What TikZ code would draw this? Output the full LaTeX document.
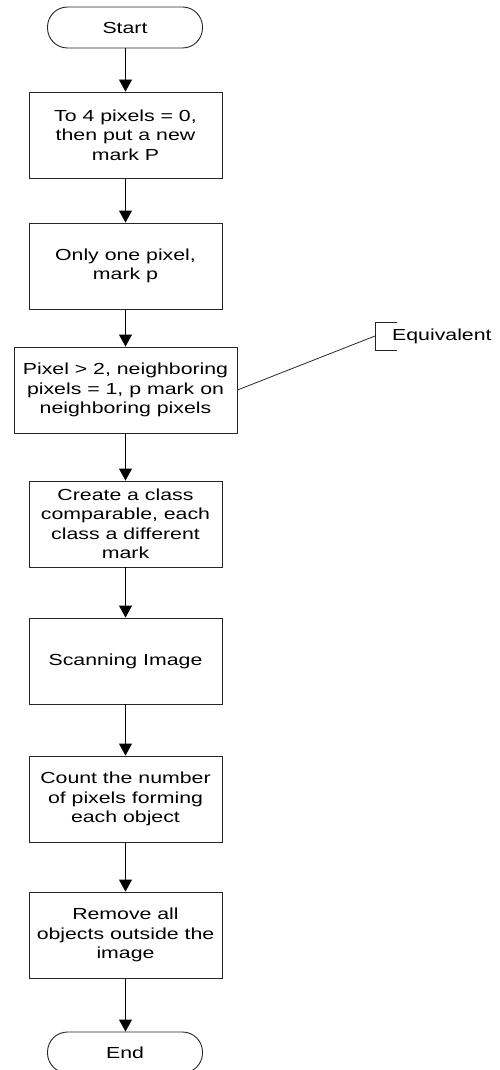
\documentclass[tikz,border=0pt]{standalone}
\usepackage{fontspec}
\setmainfont{Liberation Sans}[FakeStretch=1.33]
\usetikzlibrary{arrows.meta}
\begin{document}
\begin{tikzpicture}[x=1pt,y=-1pt,
  every node/.style={font=\fontsize{16}{19.5}\selectfont, align=center, inner sep=0pt},
  procbox/.style={draw=black!85, line width=0.9pt, rectangle, minimum width=193pt, minimum height=86pt},
  widebox/.style={procbox, minimum width=223pt},
  term/.style={draw=black!85, line width=0.9pt, rectangle, rounded corners=20pt, minimum width=155pt, minimum height=41pt},
  flow/.style={draw=black, line width=0.9pt, -{Triangle[length=12pt,width=13pt]}},
  thin/.style={draw=black!85, line width=0.8pt}]
\useasboundingbox (0,0) rectangle (500,1070);
\node[term] (start) at (125,27.5) {Start};
\node[procbox] (b1) at (125.5,135) {To 4 pixels = 0,\\then put a new\\mark P};
\node[procbox] (b2) at (125.5,266) {Only one pixel,\\mark p};
\node[widebox] (b3) at (125.5,390) {Pixel > 2, neighboring\\pixels = 1, p mark on\\neighboring pixels};
\node[procbox] (b4) at (125.5,524) {Create a class\\comparable, each\\class a different\\mark};
\node[procbox] (b5) at (125.5,661) {Scanning Image};
\node[procbox] (b6) at (125.5,799) {Count the number\\of pixels forming\\each object};
\node[procbox] (b7) at (125.5,935) {Remove all\\objects outside the\\image};
\node[term] (end) at (125,1052.5) {End};
\draw[flow] (start.south -| 125.5,0) -- (b1.north);
\draw[flow] (b1) -- (b2);
\draw[flow] (b2) -- (b3);
\draw[flow] (b3) -- (b4);
\draw[flow] (b4) -- (b5);
\draw[flow] (b5) -- (b6);
\draw[flow] (b6) -- (b7);
\draw[flow] (b7.south) -- (b7.south |- end.north);
% annotation
\coordinate (brk) at (375,336);
\draw[thin] (397,322) -- (375,322) -- (375,350) -- (397,350);
\node[anchor=west] (eq) at (392,336) {Equivalent};
\draw[thin] (b3.east) -- (brk);
\end{tikzpicture}
\end{document}
